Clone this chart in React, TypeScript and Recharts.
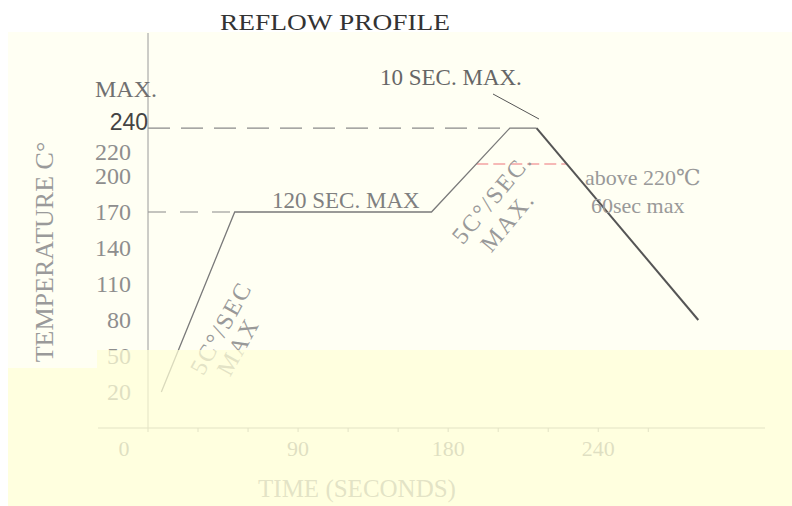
import { LineChart, Line, XAxis, YAxis, ReferenceLine } from 'recharts'

// reflow profile (time in s, temp in °C)
const profileTime = [8, 52, 170, 217, 233, 330]
const profileTemp = [20, 170, 170, 240, 240, 80]
const peakIndex = 4 // last heating point, first cooling point

const xTicks = [0, 30, 60, 90, 120, 150, 180, 210, 240, 270, 300]
const xTickLabels: Record<number, string> = { 0: '0', 90: '90', 180: '180', 270: '240' }
const yTicks = [20, 50, 80, 110, 140, 170, 200, 220, 240]

const soakTemp = 170
const peakTemp = 240
const liquidLevel = 210 // red dashed "above 220℃" marker as drawn

const rows = profileTime.map((t, i) => ({
  t,
  heat: i <= peakIndex ? profileTemp[i] : null,
  cool: i >= peakIndex ? profileTemp[i] : null,
}))

// time where the profile crosses a level between two point indices
function crossTime(from: number, to: number, level: number) {
  for (let i = from; i < to; i++) {
    const a = profileTemp[i], b = profileTemp[i + 1]
    if (a !== b && (a - level) * (b - level) <= 0) {
      return profileTime[i] + ((level - a) / (b - a)) * (profileTime[i + 1] - profileTime[i])
    }
  }
  return profileTime[from]
}

const serif = '"Liberation Serif", "DejaVu Serif", serif'

function XTick(props: any) {
  const { x, y, payload } = props
  const label = xTickLabels[payload.value]
  if (!label) return null
  return (
    <text x={payload.value === 0 ? x - 24 : x} y={y + 22} textAnchor="middle"
      fontFamily={serif} fontSize={22} fill="#8c8c8c">{label}</text>
  )
}

function YTick(props: any) {
  const { x, y, payload } = props
  if (payload.value === peakTemp) {
    return (
      <text x={x + 2} y={y - 6} dy="0.35em" textAnchor="end"
        fontFamily='"Liberation Sans", Arial, sans-serif' fontSize={23} fill="#444">{payload.value}</text>
    )
  }
  return (
    <text x={x - 15} y={y} dy="0.35em" textAnchor="end"
      fontFamily={serif} fontSize={24} fill="#8e8e8e">{payload.value}</text>
  )
}

export default function App() {
  const liqStart = crossTime(0, peakIndex, liquidLevel)
  const liqEnd = crossTime(peakIndex, profileTime.length - 1, liquidLevel)

  return (
    <div style={{ position: 'absolute', left: 0, top: 0, width: 792, height: 506, background: '#fff', overflow: 'hidden' }}>
      <div style={{ position: 'absolute', left: 8, top: 32, width: 784, height: 474, background: '#FFFFF3' }} />

      <div style={{ position: 'absolute', left: 0, top: 0 }}>
        <LineChart width={792} height={506} data={rows} margin={{ top: 33, right: 27, bottom: 48, left: 0 }}>
          <XAxis type="number" dataKey="t" domain={[0, 370]} ticks={xTicks} interval={0} allowDataOverflow
            height={30} tickSize={4} tick={<XTick />}
            axisLine={{ stroke: '#9a9a9a' }} tickLine={{ stroke: '#9a9a9a' }} />
          <YAxis type="number" domain={[-10, 319.2]} ticks={yTicks} interval={0} allowDataOverflow
            width={148} tickSize={0} tickLine={false} tick={<YTick />}
            axisLine={{ stroke: '#9a9a9a' }} />

          {/* x axis runs a bit left of the origin */}
          <ReferenceLine segment={[{ x: -30, y: -10 }, { x: 0, y: -10 }]} stroke="#9a9a9a" ifOverflow="visible" />

          <ReferenceLine segment={[{ x: 0, y: soakTemp }, { x: profileTime[1], y: soakTemp }]}
            stroke="#8a8a8a" strokeDasharray="18 14" strokeWidth={1.2} />
          <ReferenceLine segment={[{ x: 0, y: peakTemp }, { x: profileTime[3], y: peakTemp }]}
            stroke="#8a8a8a" strokeDasharray="22 11" strokeWidth={1.2} />
          <ReferenceLine segment={[{ x: liqStart, y: liquidLevel }, { x: liqEnd, y: liquidLevel }]}
            stroke="#F4A3A3" strokeDasharray="12 5" strokeWidth={1.5} />

          <Line type="linear" dataKey="heat" stroke="#7a7a7a" strokeWidth={1.3} dot={false} isAnimationActive={false} />
          <Line type="linear" dataKey="cool" stroke="#555" strokeWidth={2} dot={false} isAnimationActive={false} />
        </LineChart>
      </div>

      <svg width={792} height={506} style={{ position: 'absolute', left: 0, top: 0, pointerEvents: 'none' }}>
        <text x={220} y={30} fontFamily={serif} fontSize={24} fill="#333" textLength={230} lengthAdjust="spacingAndGlyphs">REFLOW PROFILE</text>
        <text x={95} y={97} fontFamily={serif} fontSize={24} fill="#707070">MAX.</text>
        <text x={380} y={85} fontFamily={serif} fontSize={23} fill="#666">10 SEC. MAX.</text>
        <line x1={493} y1={94} x2={539} y2={119} stroke="#555" strokeWidth={1} />
        <text x={272} y={208} fontFamily={serif} fontSize={23} fill="#808080">120 SEC. MAX</text>
        <text x={585} y={185} fontFamily={serif} fontSize={22} fill="#999">above 220℃</text>
        <text x={591} y={213} fontFamily={serif} fontSize={22} fill="#999">60sec max</text>

        <text transform="translate(221 328) rotate(-61)" fontFamily={serif} fontSize={24} fill="#999"
          textAnchor="middle" dominantBaseline="central" letterSpacing={2}>
          <tspan x={0} y={0}>5C°/SEC</tspan>
          <tspan x={-8} y={24}>MAX</tspan>
        </text>
        <text transform="translate(492 198) rotate(-50)" fontFamily={serif} fontSize={24} fill="#999"
          textAnchor="middle" dominantBaseline="central" letterSpacing={2}>
          <tspan x={0} y={0}>5C°/SEC.</tspan>
          <tspan x={-8} y={27}>MAX.</tspan>
        </text>

        <text transform="translate(53 252) rotate(-90)" fontFamily={serif} fontSize={26} fill="#9a9a9a" textAnchor="middle">TEMPERATURE  C°</text>
        <text x={357} y={497} fontFamily={serif} fontSize={25} fill="#999" textAnchor="middle">TIME (SECONDS)</text>
      </svg>

      {/* washed-out lower band */}
      <div style={{ position: 'absolute', left: 8, top: 368, width: 89, height: 138, background: 'rgba(255,255,215,0.72)' }} />
      <div style={{ position: 'absolute', left: 97, top: 350, width: 695, height: 156, background: 'rgba(255,255,215,0.72)' }} />
    </div>
  )
}
